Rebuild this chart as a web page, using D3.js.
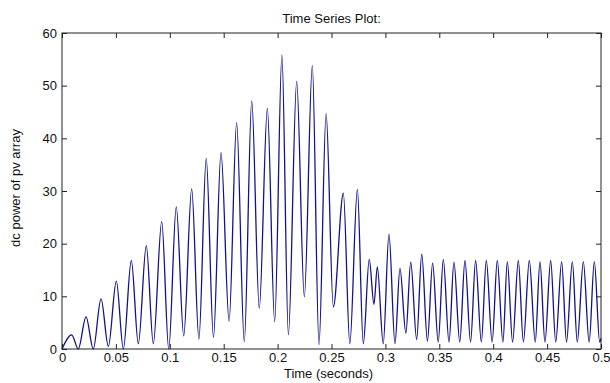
<!DOCTYPE html>
<html lang="en">
<head>
  <meta charset="UTF-8" />
  <title>Time Series Plot</title>
  <script src="https://cdn.jsdelivr.net/npm/d3@7/dist/d3.min.js"></script>
  <style>
    html, body {
      margin: 0;
      padding: 0;
      background: #fff;
    }
    svg text {
      font-family: "Liberation Sans", Arial, sans-serif;
      fill: #111;
    }
  </style>
</head>
<body>
  <div id="chart"></div>
  <script>
    // turning points of the trace
    const time = [
      0, 0.009, 0.0151, 0.0223, 0.029, 0.0362, 0.043, 0.0504, 0.0569, 0.0643,
      0.0708, 0.0782, 0.0847, 0.0925, 0.099, 0.106, 0.1129, 0.1203, 0.127, 0.1338,
      0.1405, 0.1475, 0.155, 0.162, 0.1691, 0.176, 0.183, 0.1905, 0.1973, 0.204,
      0.21, 0.2177, 0.2248, 0.2322, 0.2384, 0.245, 0.2517, 0.261, 0.267, 0.274,
      0.2795, 0.285, 0.2894, 0.2925, 0.298, 0.3033, 0.3089, 0.3135, 0.319, 0.3235,
      0.329, 0.3337, 0.339, 0.3438, 0.349, 0.3537, 0.359, 0.3636, 0.369, 0.3738,
      0.379, 0.3837, 0.389, 0.3936, 0.399, 0.4038, 0.409, 0.4131, 0.418, 0.4233,
      0.428, 0.4335, 0.439, 0.4434, 0.448, 0.4533, 0.458, 0.4635, 0.468, 0.4734,
      0.478, 0.4836, 0.489, 0.4938, 0.4988, 0.5
    ];
    const power = [
      0, 2.7, 0, 6.1, 0, 9.5, 0.5, 12.9, 0, 16.8,
      1.0, 19.6, 1.0, 24.2, 0, 27.0, 2.5, 30.4, 1.9, 36.2,
      2.2, 37.3, 5.3, 43.0, 1.4, 47.1, 7.7, 45.7, 5.2, 55.8,
      2.7, 50.8, 9.9, 53.8, 0.8, 44.7, 8.0, 29.6, 1.0, 30.3,
      1.0, 17.0, 8.5, 15.6, 1.0, 21.8, 1.0, 15.3, 3.0, 16.5,
      1.8, 18.0, 1.5, 16.3, 1.3, 17.0, 1.3, 16.5, 1.3, 16.8,
      1.3, 16.8, 1.3, 16.8, 1.3, 16.8, 1.3, 16.6, 1.3, 16.8,
      1.3, 16.8, 1.3, 16.6, 1.3, 16.8, 1.3, 16.6, 1.3, 16.6,
      1.3, 16.6, 1.3, 16.6, 1.3, 2.0
    ];
    const xTicks = [0, 0.05, 0.1, 0.15, 0.2, 0.25, 0.3, 0.35, 0.4, 0.45, 0.5];
    const yTicks = [0, 10, 20, 30, 40, 50, 60];

    const width = 610, height = 383;
    const margin = { top: 33, right: 9, bottom: 34, left: 62 };
    const innerW = width - margin.left - margin.right;
    const innerH = height - margin.top - margin.bottom;

    const svg = d3.select("#chart").append("svg")
      .attr("width", width)
      .attr("height", height);

    const g = svg.append("g")
      .attr("transform", `translate(${margin.left},${margin.top})`);

    const x = d3.scaleLinear().domain([0, 0.5]).range([0, innerW]);
    const y = d3.scaleLinear().domain([0, 60]).range([innerH, 0]);

    const fmt = d => String(d);

    // matlab style: ticks inward on all four sides
    const axisStyle = sel => {
      sel.select(".domain").remove();
      sel.selectAll("line").attr("stroke", "#222");
      sel.selectAll("text").attr("font-size", 13).attr("fill", "#111");
    };

    g.append("g").attr("transform", `translate(0,${innerH})`)
      .call(d3.axisBottom(x).tickValues(xTicks).tickFormat(fmt).tickSizeInner(-5).tickPadding(4))
      .call(axisStyle);
    g.append("g")
      .call(d3.axisTop(x).tickValues(xTicks).tickFormat("").tickSizeInner(-5))
      .call(axisStyle);
    g.append("g")
      .call(d3.axisLeft(y).tickValues(yTicks).tickFormat(fmt).tickSizeInner(-5).tickPadding(5))
      .call(axisStyle);
    g.append("g").attr("transform", `translate(${innerW},0)`)
      .call(d3.axisRight(y).tickValues(yTicks).tickFormat("").tickSizeInner(-5))
      .call(axisStyle);

    const line = d3.line()
      .x((d, i) => x(time[i]))
      .y(d => y(d))
      .curve(d3.curveMonotoneX);

    g.append("path")
      .datum(power)
      .attr("fill", "none")
      .attr("stroke", "#12128a")
      .attr("stroke-width", 1.3)
      .attr("d", line);

    // box
    g.append("rect")
      .attr("width", innerW)
      .attr("height", innerH)
      .attr("fill", "none")
      .attr("stroke", "#222")
      .attr("stroke-width", 1);

    svg.append("text")
      .attr("x", margin.left + innerW / 2)
      .attr("y", 23)
      .attr("text-anchor", "middle")
      .attr("font-size", 13)
      .text("Time Series Plot:");

    svg.append("text")
      .attr("x", margin.left + innerW / 2 - 3)
      .attr("y", 378)
      .attr("text-anchor", "middle")
      .attr("font-size", 13)
      .text("Time (seconds)");

    svg.append("text")
      .attr("transform", `translate(20,${margin.top + innerH / 2 - 3}) rotate(-90)`)
      .attr("text-anchor", "middle")
      .attr("font-size", 13)
      .text("dc power of pv array");
  </script>
</body>
</html>
